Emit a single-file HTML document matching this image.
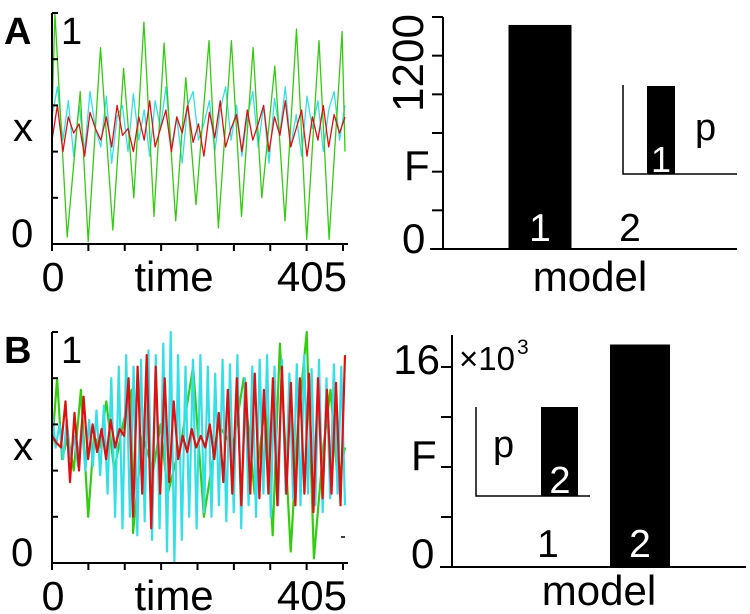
<!DOCTYPE html>
<html><head><meta charset="utf-8"><style>
html,body{margin:0;padding:0;background:#fff;}
svg{display:block;font-family:"Liberation Sans",sans-serif;}
</style></head><body>
<svg id="fig" width="750" height="614" viewBox="0 0 750 614">
<g id="axesA"></g>
<g id="axesB"></g>
<g id="barsA"></g>
<g id="barsB"></g>
</svg>
<script>
// ---- Panel A time series data ----
const greenATimes = [0,4,21,39,50,67,84,99,113,127,141,155,171,185,199,217,230,248,262,278,290,308,322,338,352,369,383,401,405];
const greenAVals  = [0.55,1.0,0.03,0.66,0.01,0.85,0.06,0.76,0.2,0.96,0.12,0.87,0.1,0.72,0.17,0.88,0.07,0.88,0.12,0.85,0.2,0.77,0.1,0.93,0.02,0.88,0.02,0.92,0.4];
const cyanAVals = [0.55,0.68,0.45,0.62,0.38,0.6,0.4,0.66,0.5,0.42,0.64,0.35,0.55,0.6,0.4,0.65,0.45,0.58,0.38,0.62,0.5,0.68,0.42,0.55,0.35,0.6,0.66,0.45,0.52,0.62,0.4,0.58,0.68,0.45,0.6,0.38,0.55,0.66,0.42,0.6,0.35,0.63,0.48,0.68,0.42,0.56,0.38,0.64,0.5,0.62,0.4,0.58,0.66,0.45,0.6];
const redAVals = [0.45,0.6,0.4,0.55,0.48,0.52,0.38,0.57,0.5,0.45,0.55,0.42,0.6,0.47,0.5,0.4,0.55,0.45,0.62,0.42,0.5,0.58,0.4,0.55,0.48,0.6,0.44,0.52,0.38,0.57,0.46,0.62,0.42,0.5,0.56,0.4,0.58,0.45,0.52,0.6,0.4,0.55,0.47,0.62,0.42,0.5,0.58,0.38,0.55,0.45,0.6,0.42,0.56,0.48,0.55];
// ---- Panel B time series data ----
const greenBTimes = [0,7,14,22,30,40,50,58,66,75,86,98,110,112,125,140,150,160,180,195,210,230,250,265,280,295,305,315,330,340,352,362,375,385,395,405];
const greenBVals  = [0.5,0.8,0.45,0.55,0.4,0.75,0.2,0.55,0.5,0.7,0.4,0.6,0.75,0.13,0.55,0.4,0.6,0.3,0.55,0.85,0.2,0.6,0.5,0.8,0.3,0.7,0.12,0.95,0.05,0.6,1.0,0.02,0.5,0.75,0.35,0.5];
const cyanBVals = [0.65,0.5,0.6,0.45,0.62,0.45,0.55,0.42,0.6,0.4,0.62,0.42,0.66,0.38,0.68,0.3,0.8,0.2,0.85,0.15,0.9,0.2,0.85,0.12,0.88,0.18,0.92,0.1,0.9,0.15,0.95,0.05,1.0,0.0,0.9,0.1,0.85,0.2,0.88,0.15,0.9,0.22,0.85,0.2,0.82,0.25,0.88,0.18,0.86,0.22,0.9,0.15,0.8,0.25,0.85,0.2,0.88,0.3,0.9,0.2,0.85,0.25,0.88,0.3,0.82,0.28,0.86,0.25,0.9,0.3,0.84,0.25,0.88,0.22,0.8,0.28,0.86,0.3,0.85,0.25];
const redBVals = [0.55,0.52,0.5,0.7,0.35,0.65,0.4,0.72,0.45,0.6,0.48,0.58,0.45,0.62,0.5,0.58,0.55,0.8,0.2,0.85,0.3,0.9,0.15,0.85,0.3,0.8,0.35,0.7,0.45,0.55,0.48,0.58,0.5,0.55,0.5,0.6,0.45,0.65,0.35,0.75,0.3,0.8,0.25,0.78,0.3,0.82,0.28,0.75,0.3,0.8,0.25,0.85,0.3,0.78,0.25,0.8,0.3,0.82,0.22,0.8,0.28,0.75,0.3,0.78,0.25,0.9];
// ---- Bar data ----
const barModels = ["1","2"];
const barAValues = [1393, 0];
const insetAValues = [1];
const barBValues = [0, 17.8];
const insetBValues = [1];

const NS="http://www.w3.org/2000/svg";
function mk(parent,tag,attrs,text){const e=document.createElementNS(NS,tag);for(const k in attrs)e.setAttribute(k,attrs[k]);if(text!==undefined)e.textContent=text;parent.appendChild(e);return e;}

function tsPanel(g, y0, y1, series, lw, letter){
  const xL=52, xR=345, tMax=405;
  const xs=t=>xL+(t/tMax)*(xR-xL);
  const ys=v=>y0+(1-v)*(y1-y0);
  series.forEach(s=>{
    const times=s.times||s.vals.map((_,i)=>i*tMax/(s.vals.length-1));
    const d=s.vals.map((v,i)=>(i?'L':'M')+xs(times[i]).toFixed(1)+','+ys(v).toFixed(1)).join('');
    const p=mk(g,'path',{d:d,fill:'none',stroke:s.color,'stroke-width':lw,'stroke-linejoin':'round'});
    
    
  });
  const ax=mk(g,'path',{d:`M${xL},${y0}V${y1}H${xR+3}`,fill:'none',stroke:'#000','stroke-width':2});
  
  for(let i=0;i<=5;i++){const y=y0+i*(y1-y0)/5;mk(g,'line',{x1:xL,x2:xL+6,y1:y,y2:y,stroke:'#000','stroke-width':2});}
  for(let i=0;i<=8;i++){const x=xL+i*(xR-2-xL)/8;mk(g,'line',{x1:x,x2:x,y1:y1,y2:y1+7,stroke:'#000','stroke-width':2});}
  let t;
  t=mk(g,'text',{x:4,y:y0+31,'font-size':38,'font-weight':'bold'},letter);
  t=mk(g,'text',{x:61,y:y0+31,'font-size':38},'1');
  t=mk(g,'text',{x:13,y:y0+128,'font-size':40},'x');
  t=mk(g,'text',{x:11,y:y1+3,'font-size':40},'0');
  t=mk(g,'text',{x:53,y:y1+47,'font-size':41,'text-anchor':'middle'},'0');
  t=mk(g,'text',{x:174,y:y1+47,'font-size':42,'text-anchor':'middle'},'time');
  t=mk(g,'text',{x:347,y:y1+47,'font-size':42,'text-anchor':'end'},'405');
}
tsPanel(document.getElementById('axesA'),13,244,[
  {vals:cyanAVals,color:'#33e0e8',name:'cyan-series-a'},
  {times:greenATimes,vals:greenAVals,color:'#33cc11',name:'green-series-a'},
  {vals:redAVals,color:'#e01010',name:'red-series-a'}],1.3,'A');
tsPanel(document.getElementById('axesB'),332,563,[
  {times:greenBTimes,vals:greenBVals,color:'#33cc11',name:'green-series-b'},
  {vals:cyanBVals,color:'#33e0e8',name:'cyan-series-b'},
  {vals:redBVals,color:'#e01010',name:'red-series-b'}],2.2,'B');
mk(document.getElementById('axesB'),'line',{x1:341,x2:345,y1:537,y2:537,stroke:'#000','stroke-width':1.5});

// Bar panel A
(function(){
  const g=document.getElementById('barsA');
  const y0=249, ys=v=>y0-v*(193/1200);
  const centers=[540,630], bw=63;
  barModels.forEach((m,i)=>{
    const v=barAValues[i];
    if(v>0){const r=mk(g,'rect',{x:centers[i]-bw/2,y:ys(v),width:bw,height:y0-ys(v),fill:'#000'});
      }
    const t=mk(g,'text',{x:centers[i],y:241,'font-size':39,'text-anchor':'middle',fill:v>0?'#fff':'#000'},m);
    
  });
  mk(g,'path',{d:'M443,17V249M430,249H737',fill:'none',stroke:'#000','stroke-width':2});
  for(let i=0;i<=6;i++){const y=17+i*(232/6);mk(g,'line',{x1:432,x2:443,y1:y,y2:y,stroke:'#000','stroke-width':2});}
  let t=mk(g,'text',{x:0,y:0,'font-size':44,'text-anchor':'middle',transform:'translate(423,63) rotate(-90)'},'1200');
  t=mk(g,'text',{x:404,y:180,'font-size':42},'F');
  t=mk(g,'text',{x:402,y:253,'font-size':42},'0');
  t=mk(g,'text',{x:590,y:291,'font-size':42,'text-anchor':'middle'},'model');
  const ig=mk(g,'g',{});
  const iys=v=>174-v*88;
  const r=mk(ig,'rect',{x:647,y:iys(insetAValues[0]),width:28,height:174-iys(insetAValues[0]),fill:'#000'});
  
  mk(ig,'path',{d:'M623,85V174H737',fill:'none',stroke:'#000','stroke-width':1.5});
  t=mk(ig,'text',{x:661,y:172,'font-size':36,'text-anchor':'middle',fill:'#fff'},'1');
  t=mk(ig,'text',{x:695,y:140,'font-size':38},'p');
})();

// Bar panel B
(function(){
  const g=document.getElementById('barsB');
  const y0=567, ys=v=>y0-v*(200/16);
  const centers=[548,640], bw=60;
  barModels.forEach((m,i)=>{
    const v=barBValues[i];
    if(v>0){const r=mk(g,'rect',{x:centers[i]-bw/2,y:ys(v),width:bw,height:y0-ys(v),fill:'#000'});
      }
    const t=mk(g,'text',{x:centers[i],y:557,'font-size':39,'text-anchor':'middle',fill:v>0?'#fff':'#000'},m);
    
  });
  mk(g,'path',{d:'M452,335V567M440,567H746',fill:'none',stroke:'#000','stroke-width':2});
  for(let i=0;i<=4;i++){const y=367+i*50;mk(g,'line',{x1:441,x2:452,y1:y,y2:y,stroke:'#000','stroke-width':2});}
  let t=mk(g,'text',{x:440,y:374,'font-size':42,'text-anchor':'end'},'16');
  t=mk(g,'text',{x:459,y:370,'font-size':33},'×10');
  t=mk(g,'text',{x:517,y:354,'font-size':21},'3');
  t=mk(g,'text',{x:411,y:470,'font-size':42},'F');
  t=mk(g,'text',{x:411,y:568,'font-size':42},'0');
  t=mk(g,'text',{x:599,y:605,'font-size':42,'text-anchor':'middle'},'model');
  const ig=mk(g,'g',{});
  const iys=v=>496-v*89;
  const r=mk(ig,'rect',{x:541,y:iys(insetBValues[0]),width:37,height:496-iys(insetBValues[0]),fill:'#000'});
  
  mk(ig,'path',{d:'M476,407V496H590',fill:'none',stroke:'#000','stroke-width':1.5});
  t=mk(ig,'text',{x:560,y:493,'font-size':38,'text-anchor':'middle',fill:'#fff'},'2');
  t=mk(ig,'text',{x:493,y:457,'font-size':38},'p');
})();
</script>
</body></html>
